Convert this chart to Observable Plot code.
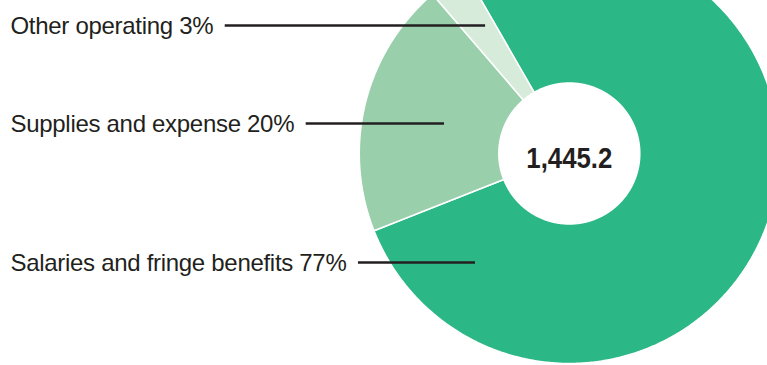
<!DOCTYPE html>
<html><head><meta charset="utf-8">
<script src="https://cdn.jsdelivr.net/npm/d3@7"></script>
<script src="https://cdn.jsdelivr.net/npm/@observablehq/plot@0.6"></script>
<style>
html,body{margin:0;padding:0;background:#fff}
#chart{width:767px;height:365px;overflow:hidden}
#chart svg text{letter-spacing:-0.3px}
</style>
</head><body><div id="chart"></div>
<script>
// ---- data ----
const categories = ["Salaries and fringe benefits", "Supplies and expense", "Other operating"];
const values = [1117.3, 284.7, 43.2];
const pctLabels = ["77%", "20%", "3%"];
const totalLabel = "1,445.2";

// ---- layout / style ----
const W = 767, H = 365;
const CX = 568.8, CY = 153, R = 210;
const innerR = 70.5 / R;
const startDeg = -29.9;
const colors = ["#2cb886", "#99cfab", "#d6ebda"];
const leaderAnchors = [ {angle: 220.7, r: 0.685}, {angle: 283.5, r: 0.611}, {angle: 326.8, r: 0.728} ];
const labelFont = "'Liberation Sans', Arial, Helvetica, sans-serif";
const labelSize = 24, labelLeft = 10, leaderGap = 12;
const ink = "#231f20";

const rad = d => d * Math.PI / 180;
const pie = d3.pie().sort(null).startAngle(rad(startDeg)).endAngle(rad(startDeg) + 2 * Math.PI);
const arcs = pie(values);

// slice polygons in data units (unit circle)
const pts = [];
arcs.forEach((a, i) => {
  const n = Math.max(8, Math.ceil((a.endAngle - a.startAngle) / rad(0.5)));
  for (let k = 0; k <= n; k++) {
    const t = a.startAngle + (a.endAngle - a.startAngle) * k / n;
    pts.push({cat: categories[i], x: Math.sin(t), y: Math.cos(t)});
  }
  for (let k = n; k >= 0; k--) {
    const t = a.startAngle + (a.endAngle - a.startAngle) * k / n;
    pts.push({cat: categories[i], x: innerR * Math.sin(t), y: innerR * Math.cos(t)});
  }
});

// label text widths to place leader starts
const ctx = document.createElement("canvas").getContext("2d");
ctx.font = `${labelSize}px ${labelFont}`;
const pxToX = px => (px - CX) / R;
const labels = categories.map((c, i) => {
  const text = `${c} ${pctLabels[i]}`;
  const w = ctx.measureText(text).width - 0.3 * text.length;
  const an = leaderAnchors[i];
  return {
    text,
    y: an.r * Math.cos(rad(an.angle)),
    x1: pxToX(labelLeft + w + leaderGap),
    x2: an.r * Math.sin(rad(an.angle))
  };
});

const chart = Plot.plot({
  width: W, height: H,
  margin: 0,
  x: {domain: [-1, 1], range: [CX - R, CX + R], axis: null},
  y: {domain: [-1, 1], range: [CY + R, CY - R], axis: null},
  color: {domain: categories, range: colors},
  marks: [
    Plot.line(pts, {x: "x", y: "y", z: "cat", fill: "cat", stroke: "white", strokeWidth: 1.5, curve: "linear-closed"}),
    Plot.ruleY(labels, {y: "y", x1: "x1", x2: "x2", stroke: ink, strokeWidth: 2.5}),
    Plot.text(labels, {y: "y", text: "text", frameAnchor: "left", dx: labelLeft, dy: 1, textAnchor: "start",
      fontSize: labelSize, fontFamily: labelFont, fill: ink}),
    Plot.text([totalLabel], {x: () => 0, y: () => 0, text: d => d, dy: 5,
      fontSize: 30, fontWeight: "bold", fontFamily: "'Liberation Sans', Arial, sans-serif", fill: ink})
  ]
});
// condensed look for the centre total
d3.select(chart).selectAll("text")
  .filter(function () { return this.textContent === totalLabel; })
  .attr("textLength", 86).attr("lengthAdjust", "spacingAndGlyphs").style("letter-spacing", "0px");
document.getElementById("chart").appendChild(chart);
</script></body></html>
